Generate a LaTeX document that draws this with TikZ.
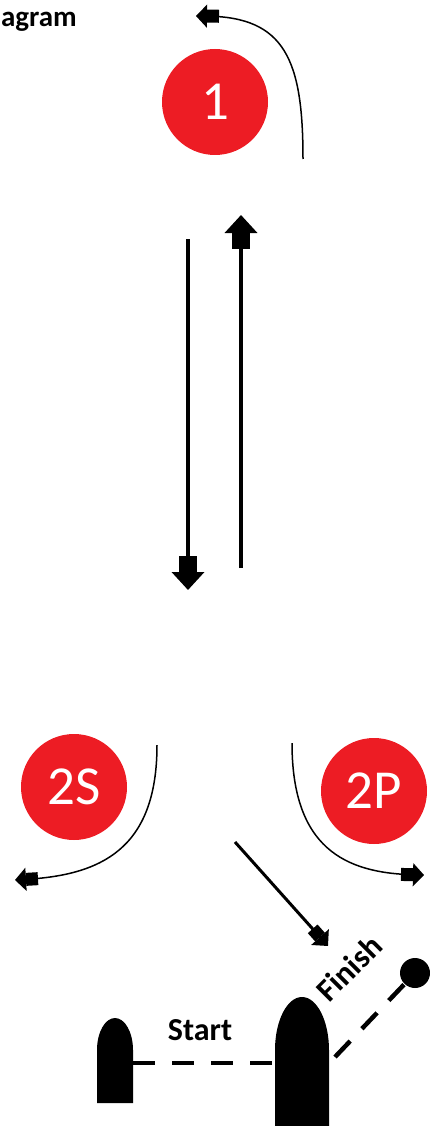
\documentclass[tikz,border=0pt]{standalone}
\usepackage{fontspec}
\setmainfont{Carlito}
\usetikzlibrary{arrows.meta}
\definecolor{buoyred}{HTML}{ED1C24}

\begin{document}
\begin{tikzpicture}[x=1pt,y=-1pt,
		buoy/.style={circle, fill=buoyred, text=white, minimum size=106pt, inner sep=0pt, font=\fontsize{55}{55}\selectfont},
		tag/.style={font=\bfseries\fontsize{32}{32}\selectfont, inner sep=0pt},
		bigarrow/.style={line width=4pt, -{Rectangle[length=16pt,width=18pt,sep=0pt]Triangle[length=18pt,width=32pt,sep=0pt]}},
		midarrow/.style={line width=3pt, -{Rectangle[length=11pt,width=13pt,sep=0pt]Triangle[length=12pt,width=23pt,sep=0pt]}},
		thinarrow/.style={line width=1.5pt, -{Rectangle[length=12pt,width=13pt,sep=0pt]Triangle[length=11pt,width=23pt,sep=0pt]}},
		gate/.style={line width=4.5pt, dash pattern=on 22pt off 17pt}]
	\useasboundingbox (0,0) rectangle (430,1126);
			\node[tag, font=\bfseries\fontsize{29}{29}\selectfont, anchor=base east] (T) at (77,27) {agram};
			\node[buoy] (M1) at (215,102) {1};
			\node[buoy] (M2S) at (74,787) {2S};
			\node[buoy] (M2P) at (374,791) {2P};
				\coordinate (R1a) at (303,159);
				\coordinate (R1b) at (196,16);
				\coordinate (Da) at (188,239);
				\coordinate (Db) at (188,590);
				\coordinate (Ua) at (241,568);
				\coordinate (Ub) at (241,215);
				\coordinate (R2a) at (157,745);
				\coordinate (R2b) at (15,880);
				\coordinate (R3a) at (292,743);
				\coordinate (R3b) at (424,875);
				\coordinate (Ga) at (235,842);
				\coordinate (Gb) at (328,946);
			\fill (97,1103) -- (97,1050) arc[start angle=180, end angle=360, x radius=18, y radius=32] -- (133,1103) -- cycle;
			\fill (275,1126) -- (275,1050) arc[start angle=180, end angle=360, x radius=27, y radius=53] -- (329,1126) -- cycle;
				\coordinate (SL) at (133,1063);
				\coordinate (SR) at (275,1063);
				\coordinate (FL) at (335,1057);
			\node[circle, fill, minimum size=30pt, inner sep=0pt] (Ball) at (415,973) {};
			\node[tag] (S) at (200,1030) {Start};
			\node[tag, rotate=45] (F) at (349,968) {Finish};
			\draw[thinarrow] (R1a) .. controls (303,60) and (285,17) .. (R1b);
			\draw[bigarrow] (Da) -- (Db);
			\draw[bigarrow] (Ua) -- (Ub);
			\draw[thinarrow] (R2a) .. controls (157,850) and (100,875) .. (R2b);
			\draw[thinarrow] (R3a) .. controls (292,848) and (345,873) .. (R3b);
			\draw[midarrow] (Ga) -- (Gb);
			\draw[gate] (SL) -- (SR);
			\draw[gate] (FL) -- (Ball);
\end{tikzpicture}
\end{document}
